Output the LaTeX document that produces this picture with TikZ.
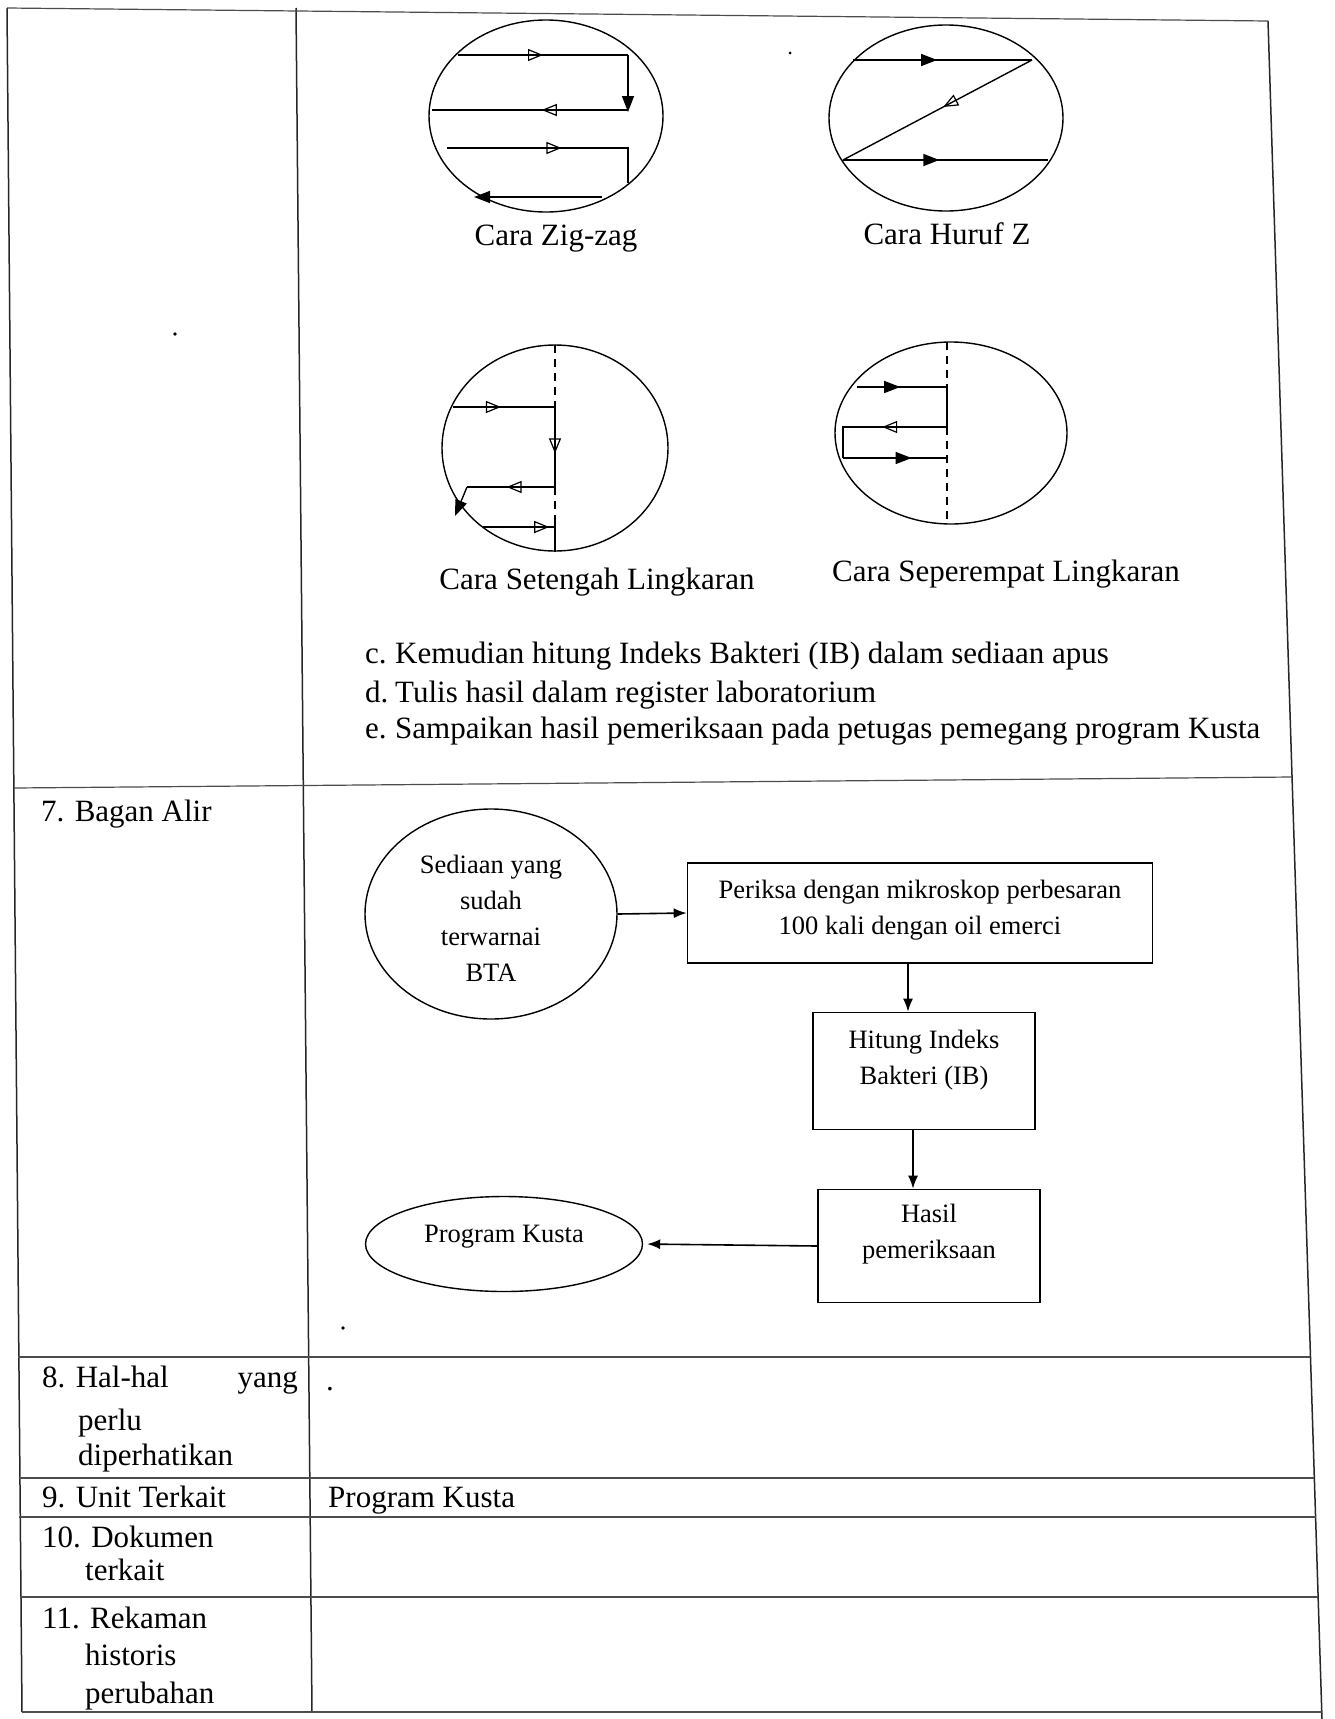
\documentclass[tikz,border=0pt]{standalone}
\usepackage{fontspec}
\setmainfont{Liberation Serif}
\usetikzlibrary{arrows.meta,shapes.geometric,decorations.markings}
\begin{document}
\begin{tikzpicture}[x=1pt,y=-1pt,
  tbl/.style={line width=1.5pt,black!85},
  hln/.style={line width=1.2pt,black!70},
  txt/.style={font=\fontsize{31}{37}\selectfont,inner sep=0pt,anchor=base west},
  captxt/.style={font=\fontsize{31}{37}\selectfont,inner sep=0pt},
  sk/.style={line width=1.4pt},
  dsh/.style={line width=1.4pt,dash pattern=on 8pt off 6pt},
  marr/.style={postaction={decorate},decoration={markings,mark=at position #1 with {\arrow[line width=1.2pt]{Triangle[open,length=15pt,width=12pt]}}}},
  marrf/.style={postaction={decorate},decoration={markings,mark=at position #1 with {\arrow{Triangle[length=16pt,width=12pt]}}}},
  endf/.style={-{Triangle[length=16pt,width=12pt]}},
  fc/.style={font=\fontsize{26.5}{36}\selectfont,align=center,inner sep=0pt},
  fbox/.style={draw,line width=1.6pt,rectangle,inner sep=0pt},
  fell/.style={draw,line width=1.4pt,ellipse,inner sep=0pt},
  flow/.style={line width=1.6pt,-{Latex[length=13pt,width=10pt]}}
]
\useasboundingbox (0,0) rectangle (1334,1719);
% ---------------- table ----------------
\draw[tbl] (7,8) -- (22,1712);
\draw[tbl] (296,8) -- (312,1712);
\draw[tbl] (1268,21) -- (1322,1719);
\draw[hln] (7,8) -- (1268,21);
\draw[hln] (14,788) -- (1292,777);
\draw[hln] (18,1357) -- (1310,1357);
\draw[hln] (19,1478) -- (1314,1478);
\draw[hln] (19,1517) -- (1316,1517);
\draw[hln] (20,1597) -- (1318,1597);
\draw[hln] (22,1712) -- (1322,1712);
% ---------------- sampling sketches ----------------
% Zig-zag
\draw[sk] (546,116) ellipse [x radius=117,y radius=96];
\draw[sk,marr=0.5] (458,55) -- (628,55);
\draw[sk,endf] (628,55) -- (628,112);
\draw[sk,marr=0.44] (628,110) -- (432,110);
\draw[sk,marr=0.53] (447,148) -- (628,148) -- (628,183);
\draw[sk,endf] (602,197) -- (474,197);
\node[captxt] (zz) at (556,239) {Cara Zig-zag};
% Huruf Z
\draw[sk] (946,118) ellipse [x radius=117,y radius=93];
\draw[sk,marrf=0.47] (853,60) -- (1032,60);
\draw[sk,marr=0.47] (1032,60) -- (843,160);
\draw[sk,marrf=0.47] (843,160) -- (1048,160);
\node[captxt] (hz) at (947,234) {Cara Huruf Z};
% Setengah lingkaran
\draw[sk] (555,448) ellipse [x radius=113,y radius=103];
\draw[dsh] (555,345) -- (555,407);
\draw[dsh] (555,487) -- (555,523);
\draw[sk,marr=0.58] (555,407) -- (555,487);
\draw[sk] (555,523) -- (555,552);
\draw[sk,marr=0.47] (453,407) -- (555,407);
\draw[sk,marr=0.55] (555,487) -- (467,487);
\draw[sk,endf] (467,487) -- (455,516);
\draw[sk,marr=0.92] (483,527) -- (555,527);
\node[captxt] (sl) at (597,582) {Cara Setengah Lingkaran};
% Seperempat lingkaran
\draw[sk] (951,433) ellipse [x radius=116,y radius=91];
\draw[dsh] (947,342) -- (947,387);
\draw[dsh] (947,427) -- (947,523);
\draw[sk] (947,387) -- (947,427);
\draw[sk,marrf=0.48] (857,387) -- (947,387);
\draw[sk,marr=0.48] (947,427) -- (843,427) -- (843,458);
\draw[sk,marrf=0.66] (843,458) -- (947,458);
\node[captxt] (spl) at (1006,574) {Cara Seperempat Lingkaran};
% ---------------- steps c-e ----------------
\node[txt] (c1) at (365,663) {c.};
\node[txt] (c2) at (395,663) {Kemudian hitung Indeks Bakteri (IB) dalam sediaan apus};
\node[txt] (d1) at (365,702) {d.};
\node[txt] (d2) at (395,702) {Tulis hasil dalam register laboratorium};
\node[txt] (e1) at (365,738) {e.};
\node[txt] (e2) at (395,738) {Sampaikan hasil pemeriksaan pada petugas pemegang program Kusta};
% ---------------- row labels ----------------
\node[txt] (r7) at (41,821) {7. Bagan Alir};
\node[txt] (r8a) at (42,1387) {8. Hal-hal};
\node[txt,anchor=base east] (r8b) at (298,1387) {yang};
\node[txt] (r8c) at (78,1430) {perlu};
\node[txt] (r8d) at (78,1465) {diperhatikan};
\node[txt] (r8dot) at (326,1390) {.};
\node[txt] (r9) at (42,1507) {9. Unit Terkait};
\node[txt] (r9v) at (328,1507) {Program Kusta};
\node[txt] (r10a) at (42,1547) {10. Dokumen};
\node[txt] (r10b) at (85,1580) {terkait};
\node[txt] (r11a) at (42,1628) {11. Rekaman};
\node[txt] (r11b) at (85,1665) {historis};
\node[txt] (r11c) at (85,1703) {perubahan};
% ---------------- flowchart ----------------
\node[fell,minimum width=252pt,minimum height=210pt] (sed) at (491,914) {};
\node[fc] (sedT) at (491,918) {Sediaan yang\\sudah\\terwarnai\\BTA};
\node[fbox,minimum width=465pt,minimum height=100pt] (per) at (920,913) {};
\node[fc] (perT) at (920,910) {Periksa dengan mikroskop perbesaran\\100 kali dengan oil emerci};
\node[fbox,minimum width=222pt,minimum height=117pt] (hit) at (924,1071) {};
\node[fc] (hitT) at (924,1060) {Hitung Indeks\\Bakteri (IB)};
\node[fbox,minimum width=222pt,minimum height=113pt] (has) at (929,1246) {};
\node[fc] (hasT) at (929,1234) {Hasil\\pemeriksaan};
\node[fell,minimum width=277pt,minimum height=95pt] (prog) at (504,1244) {};
\node[fc] (progT) at (504,1237) {Program Kusta};
\coordinate (a1) at (908,0);
\coordinate (a2) at (913,0);
\draw[flow] (sed.east) -- (per.west);
\draw[flow] (a1 |- per.south) -- (a1 |- hit.north);
\draw[flow] (a2 |- hit.south) -- (a2 |- has.north);
\draw[flow,shorten >=4pt] (has.west) -- (prog.east);
% specks
\fill (175,334) circle (1.8);
\fill (790,53) circle (1.5);
\fill (343,1328) circle (1.8);
\end{tikzpicture}
\end{document}
